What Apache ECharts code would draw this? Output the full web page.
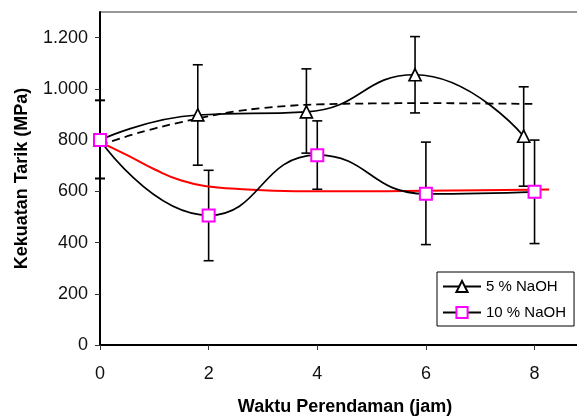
<!DOCTYPE html>
<html><head><meta charset="utf-8">
<script src="https://cdn.jsdelivr.net/npm/echarts@6/dist/echarts.min.js"></script>
<style>html,body{margin:0;padding:0;background:#fff}#c{width:577px;height:416px}</style>
</head><body><div id="c"></div>
<script>
// 5 % NaOH
const x5 = [0, 1.8, 3.8, 5.8, 7.8];
const y5 = [800, 898, 910, 1055, 815];
const lo5 = [650, 702, 749, 906, 620];
const hi5 = [955, 1094, 1078, 1204, 1008];
// 10 % NaOH
const x10 = [0, 2, 4, 6, 8];
const y10 = [800, 506, 741, 590, 598];
const lo10 = [650, 329, 608, 392, 396];
const hi10 = [955, 682, 875, 792, 800];
// trend lines
const trend5X = [0, 0.5, 1, 1.5, 2, 2.5, 3, 3.5, 4, 5, 6, 7, 8.05];
const trend5Y = [780, 815, 845, 870, 893, 912, 925, 934, 939, 943, 944, 943, 941];
const trend10X = [0, 0.5, 1, 1.5, 2, 2.5, 3, 4, 5, 6, 7, 8.27];
const trend10Y = [792, 741, 686, 642, 619, 610, 604, 600, 600, 602, 604, 607];
// ticks
const xTicks = [0, 2, 4, 6, 8];
const yTicks = [0, 200, 400, 600, 800, 1000, 1200];

const zip = (a, b) => a.map((v, i) => [v, b[i]]);
const zip3 = (a, b, c) => a.map((v, i) => [v, b[i], c[i]]);

function errBar(params, api) {
  const x = api.value(0), lo = api.value(1), hi = api.value(2);
  const p1 = api.coord([x, lo]), p2 = api.coord([x, hi]);
  const st = { stroke: '#000', lineWidth: 1.6 };
  const w = 5;
  return { type: 'group', children: [
    { type: 'line', shape: { x1: p1[0], y1: p1[1], x2: p2[0], y2: p2[1] }, style: st },
    { type: 'line', shape: { x1: p1[0] - w, y1: p1[1], x2: p1[0] + w, y2: p1[1] }, style: st },
    { type: 'line', shape: { x1: p2[0] - w, y1: p2[1], x2: p2[0] + w, y2: p2[1] }, style: st }
  ]};
}

const chart = echarts.init(document.getElementById('c'), null, { renderer: 'canvas' });
chart.setOption({
  animation: false,
  backgroundColor: '#fff',
  textStyle: { fontFamily: 'Liberation Sans, Arial, sans-serif' },
  grid: { left: 100, top: 12, right: -1, bottom: 71, show: true, borderColor: '#333', borderWidth: 1,
    containLabel: false, outerBoundsMode: 'none' },
  xAxis: {
    type: 'value', min: 0, max: 8.8,
    name: 'Waktu Perendaman (jam)', nameLocation: 'middle', nameGap: 53,
    nameTextStyle: { fontSize: 18, fontWeight: 'bold', color: '#000', padding: [0, 0, 0, 12] },
    axisLine: { show: true, onZero: false, lineStyle: { color: '#000', width: 2 } },
    axisTick: { show: true, length: 5, customValues: xTicks, lineStyle: { color: '#333', width: 1 } },
    axisLabel: { customValues: xTicks, fontSize: 18, color: '#111', margin: 20 },
    splitLine: { show: false }
  },
  yAxis: {
    type: 'value', min: 0, max: 1300,
    name: 'Kekuatan Tarik (MPa)', nameLocation: 'middle', nameGap: 69, nameRotate: 90,
    nameTextStyle: { fontSize: 18, fontWeight: 'bold', color: '#000' },
    axisLine: { show: true, onZero: false, lineStyle: { color: '#000', width: 2 } },
    axisTick: { show: true, length: 5, customValues: yTicks, lineStyle: { color: '#333', width: 1 } },
    axisLabel: { customValues: yTicks, fontSize: 18, color: '#111', margin: 12,
      formatter: v => String(v).replace(/\B(?=(\d{3})+(?!\d))/g, '.') },
    splitLine: { show: false }
  },
  legend: {
    orient: 'vertical', left: 437, top: 272,
    backgroundColor: '#fff', borderColor: '#000', borderWidth: 1,
    padding: [7, 8, 6, 5], itemGap: 11, itemWidth: 38, itemHeight: 14,
    textStyle: { fontSize: 15, color: '#000' },
    data: ['5 % NaOH', '10 % NaOH']
  },
  series: [
    { type: 'custom', name: 'err5', renderItem: errBar, data: zip3(x5, lo5, hi5), z: 3, silent: true },
    { type: 'custom', name: 'err10', renderItem: errBar, data: zip3(x10, lo10, hi10), z: 3, silent: true },
    { type: 'line', name: 'trend5', data: zip(trend5X, trend5Y), smooth: true, showSymbol: false, symbol: 'none',
      lineStyle: { color: '#000', width: 1.8, type: [8, 5] }, z: 4 },
    { type: 'line', name: 'trend10', data: zip(trend10X, trend10Y), smooth: true, showSymbol: false, symbol: 'none',
      lineStyle: { color: '#ff0000', width: 2 }, z: 4 },
    { type: 'line', name: '5 % NaOH', data: zip(x5, y5), smooth: 0.5,
      symbol: 'triangle', symbolSize: 12,
      lineStyle: { color: '#000', width: 1.7 },
      itemStyle: { color: '#fff', borderColor: '#000', borderWidth: 1.7 }, z: 5 },
    { type: 'line', name: '10 % NaOH', data: zip(x10, y10), smooth: 0.5,
      symbol: 'rect', symbolSize: 12,
      lineStyle: { color: '#000', width: 1.7 },
      itemStyle: { color: '#fff', borderColor: '#ff00ff', borderWidth: 2 }, z: 6 }
  ]
});
</script></body></html>
